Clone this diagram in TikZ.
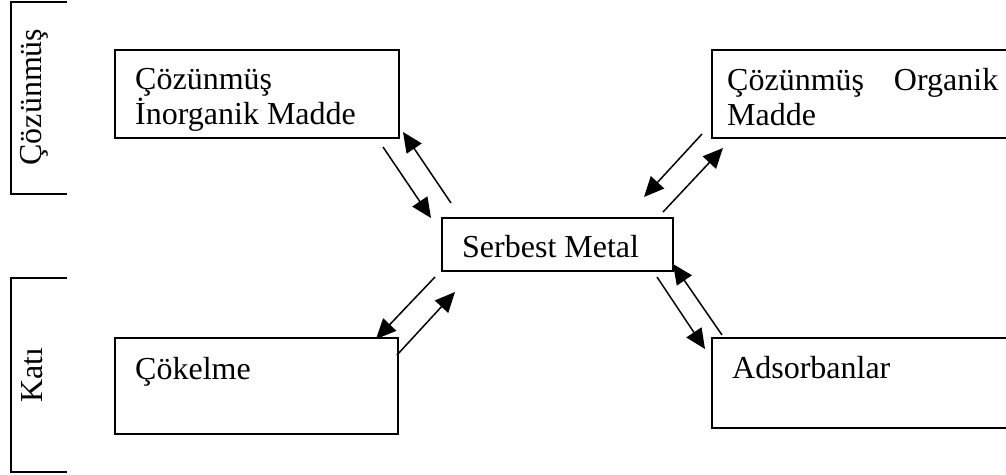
\documentclass[tikz,border=0pt]{standalone}
\usepackage{fontspec}
\setmainfont{Liberation Serif}
\usetikzlibrary{arrows.meta}
\begin{document}
\begin{tikzpicture}[x=1pt,y=-1pt,
  box/.style={draw, line width=1.7pt, inner sep=0pt},
  txt/.style={inner sep=0pt, anchor=base west, font=\fontsize{32}{35}\selectfont},
  rtxt/.style={inner sep=0pt, anchor=base, rotate=90, font=\fontsize{32}{35}\selectfont},
  brk/.style={line width=1.7pt},
  arr/.style={line width=1.5pt, -{Triangle[length=20pt 0,width=18pt 0]}}]
\clip (0,0) rectangle (1006,474);
\fill[white] (0,0) rectangle (1006,474);
% brackets
\draw[brk] (67,2) -- (11,2) -- (11,194) -- (67,194);
\draw[brk] (67,278) -- (11,278) -- (11,472) -- (67,472);
\node[rtxt] (lcoz) at (41,97) {Çözünmüş};
\node[rtxt] (lkati) at (42,375) {Katı};
% boxes
\node[box, anchor=north west, minimum width=284pt, minimum height=88pt] (inorg) at (114,49) {};
\node[box, anchor=north west, minimum width=231pt, minimum height=53pt] (serbest) at (441,217) {};
\node[box, anchor=north west, minimum width=283pt, minimum height=96pt] (cokelme) at (114,337) {};
\node[box, anchor=north west, minimum width=309pt, minimum height=88pt] (organik) at (711,49) {};
\node[box, anchor=north west, minimum width=309pt, minimum height=90pt] (adsorb) at (711,337) {};
% texts
\node[txt] (t1a) at (135,89) {Çözünmüş};
\node[txt] (t1b) at (135,124) {İnorganik Madde};
\node[txt] (t2) at (462,257) {Serbest Metal};
\node[txt] (t3) at (135,379) {Çökelme};
\node[txt] (t4a) at (727,90) {\makebox[271pt][s]{Çözünmüş Organik}};
\node[txt] (t4b) at (727,125) {Madde};
\node[txt] (t5) at (732,378) {Adsorbanlar};
% arrow end points
\coordinate (a1s) at (383,147); \coordinate (a1e) at (431,218);
\coordinate (a2s) at (451,203); \coordinate (a2e) at (403,132);
\coordinate (a3s) at (702,134); \coordinate (a3e) at (644,197);
\coordinate (a4s) at (663,212); \coordinate (a4e) at (723,148);
\coordinate (a5s) at (435,277); \coordinate (a5e) at (376,339);
\coordinate (a6s) at (397,355); \coordinate (a6e) at (455,292);
\coordinate (a7s) at (657,277); \coordinate (a7e) at (705,349);
\coordinate (a8s) at (722,335); \coordinate (a8e) at (673,264);
\draw[arr] (a1s) -- (a1e);
\draw[arr] (a2s) -- (a2e);
\draw[arr] (a3s) -- (a3e);
\draw[arr] (a4s) -- (a4e);
\draw[arr] (a5s) -- (a5e);
\draw[arr] (a6s) -- (a6e);
\draw[arr] (a7s) -- (a7e);
\draw[arr] (a8s) -- (a8e);
\end{tikzpicture}
\end{document}
